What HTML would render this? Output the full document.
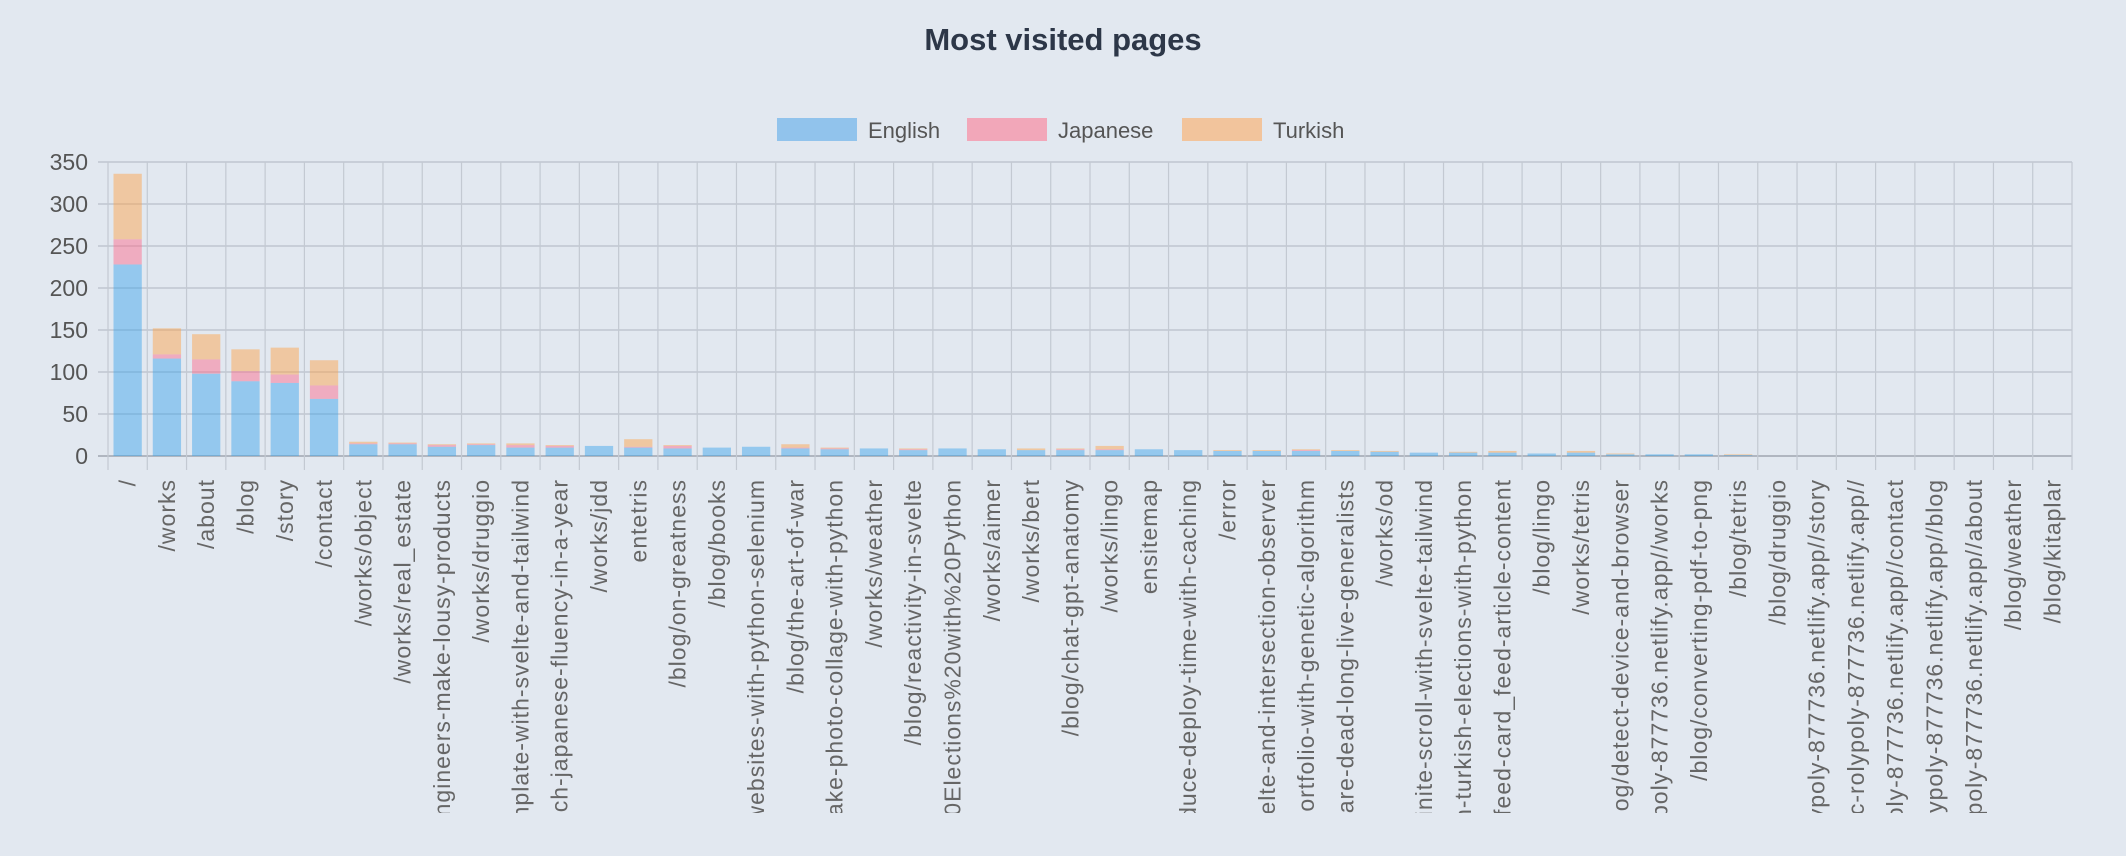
<!DOCTYPE html>
<html><head><meta charset="utf-8"><style>
html,body{margin:0;padding:0;background:#e2e8f0;}
svg{display:block;font-family:"Liberation Sans",sans-serif;}
</style></head><body>
<svg id="c" width="2126" height="856" xmlns="http://www.w3.org/2000/svg">
<rect width="2126" height="856" fill="#e2e8f0"/>
<text x="1063" y="50" text-anchor="middle" font-size="31" font-weight="bold" fill="#2d3748">Most visited pages</text>
<rect x="777" y="118" width="80" height="23" fill="#91c3ec"/>
<text x="868" y="138" font-size="22" fill="#555">English</text>
<rect x="967" y="118" width="80" height="23" fill="#f2a7b9"/>
<text x="1058" y="138" font-size="22" fill="#555">Japanese</text>
<rect x="1182" y="118" width="80" height="23" fill="#f2c49c"/>
<text x="1273" y="138" font-size="22" fill="#555">Turkish</text>
<defs><clipPath id="lc"><rect x="0" y="470" width="2126" height="343"/></clipPath></defs>
<g id="g"></g>
</svg>
<script>
var L=["/","/works","/about","/blog","/story","/contact","/works/object","/works/real_estate","engineers-make-lousy-products","/works/druggio","mplate-with-svelte-and-tailwind","ach-japanese-fluency-in-a-year","/works/jdd","entetris","/blog/on-greatness","/blog/books","websites-with-python-selenium","/blog/the-art-of-war","ake-photo-collage-with-python","/works/weather","/blog/reactivity-in-svelte","20Elections%20with%20Python","/works/aimer","/works/bert","/blog/chat-gpt-anatomy","/works/lingo","ensitemap","duce-deploy-time-with-caching","/error","velte-and-intersection-observer","portfolio-with-genetic-algorithm","s-are-dead-long-live-generalists","/works/od","finite-scroll-with-svelte-tailwind","n-turkish-elections-with-python","-feed-card_feed-article-content","/blog/lingo","/works/tetris","blog/detect-device-and-browser","ypoly-877736.netlify.app//works","/blog/converting-pdf-to-png","/blog/tetris","/blog/druggio","lypoly-877736.netlify.app//story","lic-rolypoly-877736.netlify.app//","oly-877736.netlify.app//contact","olypoly-877736.netlify.app//blog","ypoly-877736.netlify.app//about","/blog/weather","/blog/kitaplar"];
var D=[[228,30,78],[116,5,31],[98,17,30],[89,12,26],[87,10,32],[68,16,30],[14,1,2],[14,1,1],[11,2,1],[13,1,1],[10,3,2],[10,2,1],[12,0,0],[10,1,9],[9,3,1],[10,0,0],[11,0,0],[9,1,4],[8,1,1],[9,0,0],[7,1,1],[9,0,0],[8,0,0],[7,0,2],[7,1,1],[7,1,4],[8,0,0],[7,0,0],[6,0,1],[6,0,1],[6,1,1],[6,0,1],[5,0,1],[4,0,0],[4,0,1],[4,0,2],[3,0,0],[4,0,2],[2,0,1],[2,0,0],[2,0,0],[1,0,1],[0,0,0],[0,0,0],[0,0,0],[0,0,0],[0,0,0],[0,0,0],[0,0,0],[0,0,0]];
var X0=108,X1=2072,Y0=456,YT=162,n=50,w=(X1-X0)/n,k=(Y0-YT)/350;
var s="";
for(var i=0;i<=7;i++){var y=Y0-i*50*k;s+='<line x1="'+(X0-10)+'" x2="'+X1+'" y1="'+y+'" y2="'+y+'" stroke="'+(i==0?'#b0b6c0':'#bfc5cf')+'" stroke-width="'+(i==0?2:1.5)+'"/>';
s+='<text x="88" y="'+(y+8)+'" text-anchor="end" font-size="23" fill="#555">'+(i*50)+'</text>';}
for(var i=0;i<=n;i++){var x=X0+i*w;s+='<line x1="'+x+'" x2="'+x+'" y1="'+YT+'" y2="'+(Y0+14)+'" stroke="#c3c9d2" stroke-width="1.2"/>';}
var C=["rgba(54,162,235,0.45)","rgba(255,99,132,0.45)","rgba(255,159,64,0.45)"];
var bw=w*0.72;
for(var i=0;i<n;i++){var x=X0+i*w+(w-bw)/2,b=Y0;for(var j=0;j<3;j++){var h=D[i][j]*k;if(h>0){s+='<rect x="'+x+'" y="'+(b-h)+'" width="'+bw+'" height="'+h+'" fill="'+C[j]+'"/>';b-=h;}}}
s+='<g clip-path="url(#lc)">';
for(var i=0;i<n;i++){var cx=X0+(i+0.5)*w;s+='<text transform="translate('+(cx+8)+',479) rotate(-90)" text-anchor="end" font-size="23" letter-spacing="1" fill="#666">'+L[i]+'</text>';}
s+='</g>';
document.getElementById("g").innerHTML=s;
</script>
</body></html>
